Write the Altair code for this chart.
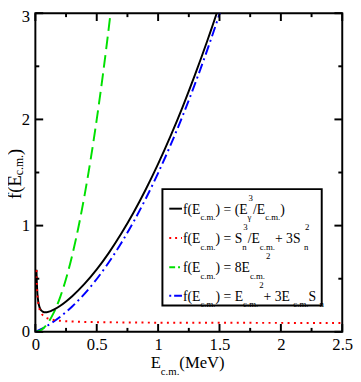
import altair as alt
import pandas as pd

# ---------------- data ----------------
black_E = [0.009, 0.01, 0.015, 0.02, 0.03, 0.04, 0.05, 0.06, 0.07, 0.08, 0.09, 0.1, 0.125,
           0.15, 0.2, 0.25, 0.3, 0.4, 0.5, 0.6, 0.7, 0.8, 0.9, 1.0, 1.1, 1.2, 1.3, 1.4, 1.5]
black_f = [0.585, 0.536, 0.389, 0.317, 0.247, 0.215, 0.199, 0.190, 0.185, 0.184, 0.184, 0.186, 0.195,
           0.208, 0.243, 0.286, 0.335, 0.451, 0.588, 0.746, 0.925, 1.123, 1.342, 1.581, 1.840,
           2.119, 2.419, 2.738, 3.077]

red_E = [0.009, 0.01, 0.015, 0.02, 0.03, 0.04, 0.05, 0.07, 0.1, 0.15, 0.2, 0.3, 0.5, 0.75,
         1.0, 1.5, 2.0, 2.5]
red_f = [0.581, 0.531, 0.381, 0.306, 0.231, 0.194, 0.172, 0.146, 0.127, 0.112, 0.104, 0.097,
         0.091, 0.088, 0.086, 0.085, 0.084, 0.0835]

green_E = [0.0, 0.05, 0.1, 0.15, 0.2, 0.25, 0.3, 0.35, 0.4, 0.45, 0.5, 0.55, 0.6, 0.62]
green_f = [0.0, 0.02, 0.08, 0.18, 0.32, 0.5, 0.72, 0.98, 1.28, 1.62, 2.0, 2.42, 2.88, 3.075]

blue_E = [0.0, 0.05, 0.1, 0.15, 0.2, 0.3, 0.4, 0.5, 0.6, 0.7, 0.8, 0.9, 1.0, 1.1, 1.2, 1.3,
          1.4, 1.5, 1.52]
blue_f = [0.0, 0.027, 0.0595, 0.0968, 0.139, 0.2385, 0.358, 0.4975, 0.657, 0.8365, 1.036,
          1.2555, 1.495, 1.7545, 2.034, 2.3335, 2.653, 2.9925, 3.063]

x_major = [0, 0.5, 1, 1.5, 2, 2.5]
x_minor = [0.25, 0.75, 1.25, 1.75, 2.25]
y_major = [0, 1, 2, 3]
y_minor = [0.5, 1.5, 2.5]

# ---------------- geometry ----------------
W, H = 314, 326
PAD = {"left": 28, "right": 11, "top": 1, "bottom": 46}
FONT = "Liberation Serif, DejaVu Serif, serif"

xs = alt.Scale(domain=[0, 2.5], nice=False, zero=False)
ys = alt.Scale(domain=[0, 3], nice=False, zero=False)
xaxis = alt.Axis(values=x_major, format="~g", title=None, domain=False, ticks=False, tickSize=0,
                 grid=False, labelFont=FONT, labelFontSize=17, labelColor="black",
                 labelPadding=5, labelFlush=False, labelOverlap=False)
yaxis = alt.Axis(values=y_major, format="~g", title=None, domain=False, ticks=False, tickSize=0,
                 grid=False, labelFont=FONT, labelFontSize=17, labelColor="black",
                 labelPadding=6, labelFlush=False, labelOverlap=False,
                 labelOffset={"condition": {"test": "datum.value == 3", "value": 4}, "value": 0})


def X():
    return alt.X("E:Q", scale=xs, axis=xaxis)


def Y():
    return alt.Y("f:Q", scale=ys, axis=yaxis)


def curve(E, f, color, dash=None):
    df = pd.DataFrame({"E": E, "f": f})
    kw = dict(color=color, strokeWidth=2, clip=True, interpolate="monotone")
    if dash:
        kw["strokeDash"] = dash
    return alt.Chart(df).mark_line(**kw).encode(x=X(), y=Y())


def ticks_x(vals, length, bottom):
    df = pd.DataFrame({"E": vals})
    y0, y1 = (H, H - length) if bottom else (0, length)
    return alt.Chart(df).mark_rule(color="black", strokeWidth=2).encode(
        x=X(), y=alt.value(y0), y2=alt.value(y1))


def ticks_y(vals, length, left):
    df = pd.DataFrame({"f": vals})
    x0, x1 = (0, length) if left else (W, W - length)
    return alt.Chart(df).mark_rule(color="black", strokeWidth=2).encode(
        y=Y(), x=alt.value(x0), x2=alt.value(x1))


ONE = pd.DataFrame({"a": [0]})

TW = {'f': 0.333, '(': 0.333, ')': 0.333, 'E': 0.611, 'c': 0.444, '.': 0.25, 'm': 0.778,
      ' ': 0.25, '=': 0.564, '/': 0.278, 'S': 0.556, 'n': 0.5, '+': 0.564, '3': 0.5,
      '8': 0.5, '2': 0.5, 'γ': 0.43, 'M': 0.889, 'e': 0.444, 'V': 0.722}


def tw(s, size):
    return sum(TW.get(c, 0.5) for c in s) * size


def txt(s, x, y, size, angle=None):
    kw = dict(font=FONT, fontSize=size, color="black", align="left", baseline="alphabetic")
    if angle is not None:
        kw["angle"] = angle
    return alt.Chart(ONE).mark_text(**kw).encode(x=alt.value(x), y=alt.value(y), text=alt.value(s))


def row(tokens, x0, y0, main, small, sub_dy=7, sup_dy=-13):
    out = []
    x = x0
    for tok in tokens:
        kind = tok[0]
        if kind == "t":
            out.append(txt(tok[1], x, y0, main))
            x += tw(tok[1], main)
        elif kind == "sub":
            out.append(txt(tok[1], x, y0 + sub_dy, small))
            x += tw(tok[1], small)
        elif kind == "sup":
            x += 1
            out.append(txt(tok[1], x, y0 + sup_dy, small))
            x += tw(tok[1], small)
        elif kind == "subsup":
            out.append(txt(tok[1], x, y0 + sub_dy, small))
            out.append(txt(tok[2], x + 1, y0 + sup_dy, small))
            x += max(tw(tok[1], small), tw(tok[2], small) + 1)
    return out


legend_rows = [
    [("t", "f(E"), ("sub", "c.m."), ("t", ") = (E"), ("subsup", "γ", "3"), ("t", "/E"),
     ("sub", "c.m."), ("t", ")")],
    [("t", "f(E"), ("sub", "c.m."), ("t", ") = S"), ("subsup", "n", "3"), ("t", "/E"),
     ("sub", "c.m."), ("t", " + 3S"), ("subsup", "n", "2")],
    [("t", "f(E"), ("sub", "c.m."), ("t", ") = 8E"), ("sub", "c.m."), ("sup", "2")],
    [("t", "f(E"), ("sub", "c.m."), ("t", ") = E"), ("sub", "c.m."), ("sup", "2"),
     ("t", " + 3E"), ("sub", "c.m."), ("t", " S"), ("sub", "n")],
]
legend_colors = ["black", "#ff0000", "#00e000", "#0000ff"]
legend_dash = [None, [2, 4], [6, 3, 2, 3], [2, 3, 8, 3]]
row_base = [205, 235, 265, 294]

layers = [
    curve(blue_E, blue_f, "#0000ff", [10, 4, 2, 4]),
    curve(green_E, green_f, "#00e000", [13, 6]),
    curve(black_E, black_f, "black"),
    curve(red_E, red_f, "#ff0000", [2, 4.5]),
    ticks_x(x_major, 8, True), ticks_x(x_minor, 4, True),
    ticks_x(x_major, 8, False), ticks_x(x_minor, 4, False),
    ticks_y(y_major, 8, True), ticks_y(y_minor, 4, True),
    ticks_y(y_major, 8, False), ticks_y(y_minor, 4, False),
    alt.Chart(ONE).mark_rect(fill="white", stroke="black", strokeWidth=2).encode(
        x=alt.value(130), x2=alt.value(293), y=alt.value(180), y2=alt.value(299)),
]

for i, toks in enumerate(legend_rows):
    kw = dict(color=legend_colors[i], strokeWidth=2)
    if legend_dash[i]:
        kw["strokeDash"] = legend_dash[i]
    layers.append(alt.Chart(ONE).mark_rule(**kw).encode(
        x=alt.value(137), x2=alt.value(150), y=alt.value(row_base[i] - 5)))
    layers += row(toks, 151, row_base[i], 14, 9)

# x-axis title  E_c.m. (MeV)
layers += row([("t", "E"), ("sub", "c.m."), ("t", " (MeV)")], 118, 363, 17, 11, sub_dy=7)

# y-axis title  f(E_c.m.)  rotated
yx, ystart = -15, 190
for s, size, dx in [("f(E", 19, 0), ("c.m.", 12, 2), (")", 19, 0)]:
    layers.append(txt(s, yx + dx, ystart, size, angle=270))
    ystart -= tw(s, size)

chart = alt.layer(*layers).properties(
    width=W, height=H, padding=PAD, autosize=alt.AutoSizeParams(type="none")
).configure_view(stroke="black", strokeWidth=2)

chart.save("out.html", embed_options={"renderer": "svg", "actions": False})
